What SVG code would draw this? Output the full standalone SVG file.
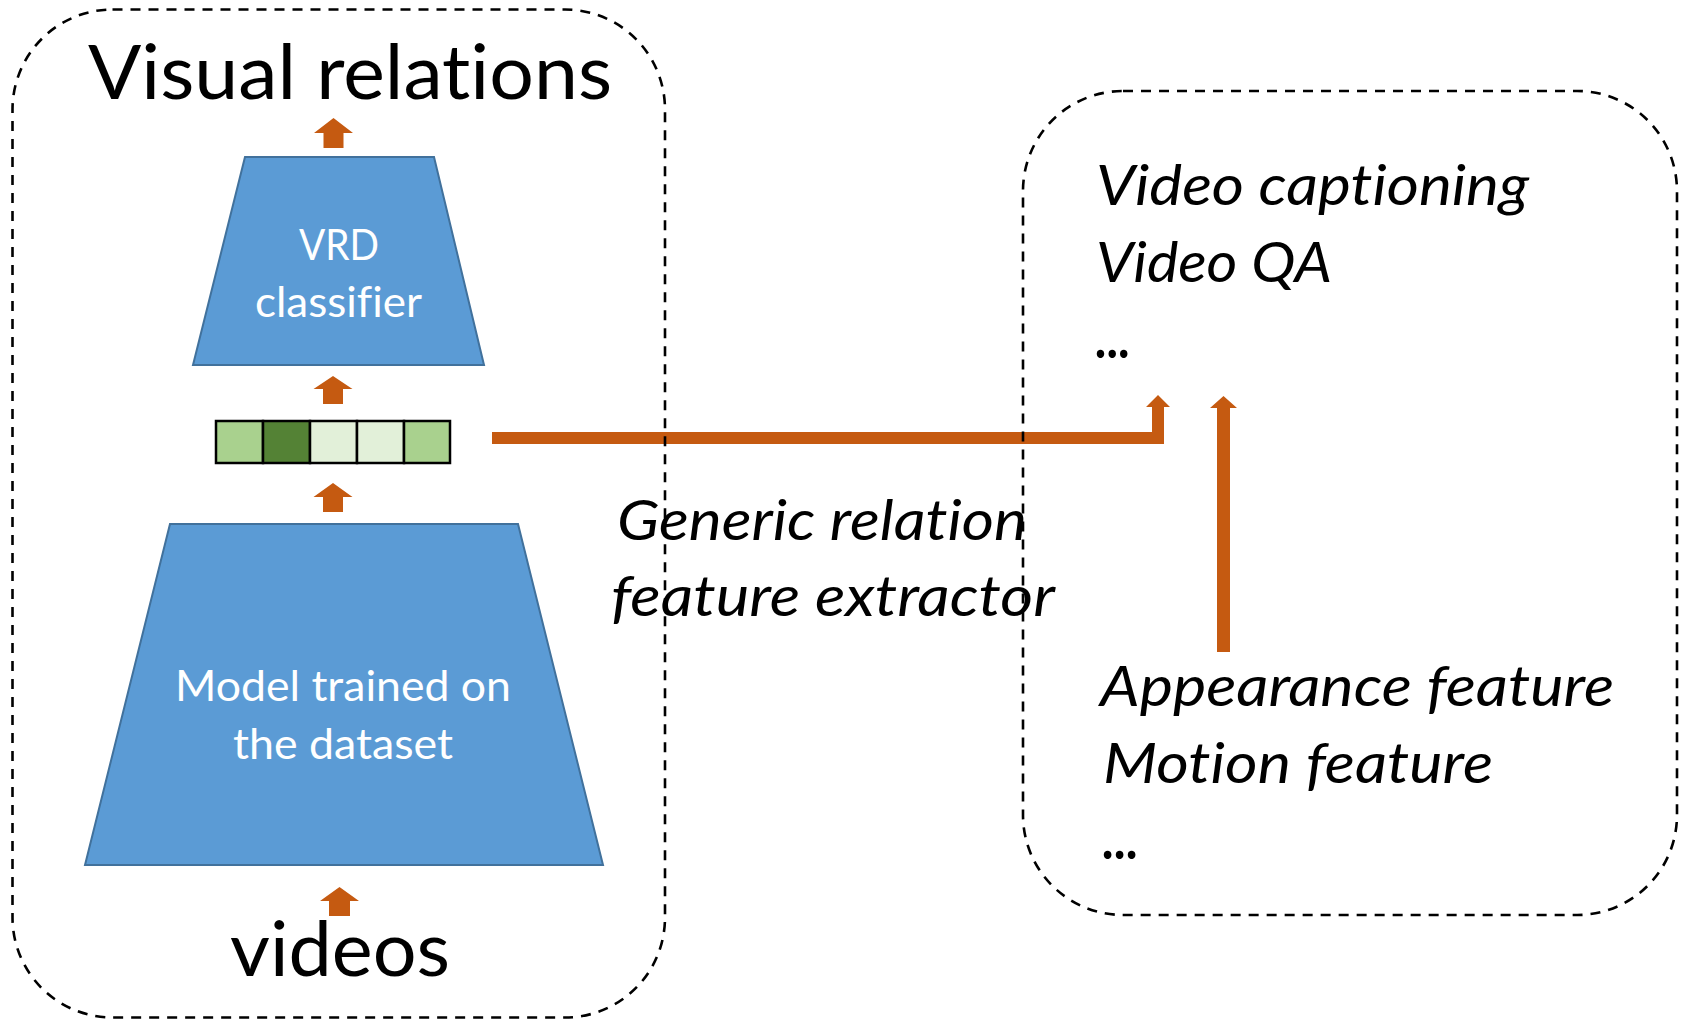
<svg xmlns="http://www.w3.org/2000/svg" width="1684" height="1020" viewBox="0 0 1684 1020">
<style>
.bg{fill:#ffffff}
.trap{fill:#5B9BD5;stroke:#41719C;stroke-width:2}
.box{fill:none;stroke:#000000;stroke-width:2.6;stroke-dasharray:10 8}
.arr{fill:#C55A11}
.cell{stroke:#000000;stroke-width:2.5}
text{font-variant-ligatures:none;font-feature-settings:"liga" 0,"dlig" 0}
.big{font-family:Lato,"Open Sans","Liberation Sans",sans-serif;font-size:75px;fill:#000000}
.inner{font-family:Lato,"Open Sans","Liberation Sans",sans-serif;font-size:42px;fill:#ffffff}
.it{font-family:Lato,"Open Sans","Liberation Sans",sans-serif;font-size:56px;font-style:italic;fill:#000000}
</style>
<rect class="bg" x="0" y="0" width="1684" height="1020"/>

<g id="connectors">
<path class="arr" d="M333.5 118 L353 133 L343.5 133 L343.5 148 L323.5 148 L323.5 133 L314 133 Z"/>
<path class="arr" d="M333 376 L352.5 389 L343 389 L343 404 L323 404 L323 389 L313.5 389 Z"/>
<path class="arr" d="M333 483 L352.5 497 L343 497 L343 512 L323 512 L323 497 L313.5 497 Z"/>
<path class="arr" d="M339.5 887 L359 901 L350 901 L350 916 L329 916 L329 901 L320 901 Z"/>
<path class="arr" d="M492 432 L1152 432 L1152 407 L1146 407 L1158 395 L1170 407 L1164 407 L1164 444 L492 444 Z"/>
<path class="arr" d="M1223.5 396 L1237 408 L1230 408 L1230 652 L1217 652 L1217 408 L1210 408 Z"/>
</g>

<g id="title">
<text class="big" x="88" y="99" textLength="524" lengthAdjust="spacingAndGlyphs">Visual relations</text>
</g>

<g id="vrd-classifier">
<polygon class="trap" points="245,157 434,157 484,365 193,365"/>
<text class="inner" x="299" y="260" textLength="80" lengthAdjust="spacingAndGlyphs">VRD</text>
<text class="inner" x="255" y="317" textLength="167" lengthAdjust="spacingAndGlyphs">classifier</text>
</g>

<g id="feature-vector">
<rect class="cell" x="216" y="421" width="47" height="42" fill="#A9D18E"/>
<rect class="cell" x="263" y="421" width="47" height="42" fill="#548235"/>
<rect class="cell" x="310" y="421" width="47" height="42" fill="#E2F0D9"/>
<rect class="cell" x="357" y="421" width="47" height="42" fill="#E2F0D9"/>
<rect class="cell" x="404" y="421" width="46" height="42" fill="#A9D18E"/>
</g>

<g id="model">
<polygon class="trap" points="170,524 518,524 603,865 85,865"/>
<text class="inner" x="175" y="701" textLength="336" lengthAdjust="spacingAndGlyphs">Model trained on</text>
<text class="inner" x="233" y="759" textLength="220" lengthAdjust="spacingAndGlyphs">the dataset</text>
</g>

<g id="videos">
<text class="big" x="230" y="976" textLength="220" lengthAdjust="spacingAndGlyphs">videos</text>
</g>

<g id="generic-label">
<text class="it" x="617" y="540" textLength="410" lengthAdjust="spacingAndGlyphs">Generic relation</text>
<text class="it" x="611" y="616" textLength="444" lengthAdjust="spacingAndGlyphs">feature extractor</text>
</g>

<g id="tasks">
<text class="it" x="1096" y="205" textLength="433" lengthAdjust="spacingAndGlyphs">Video captioning</text>
<text class="it" x="1096" y="282" textLength="236" lengthAdjust="spacingAndGlyphs">Video QA</text>
<text class="it" x="1096" y="358" textLength="35" lengthAdjust="spacingAndGlyphs" font-weight="bold">...</text>
</g>

<g id="features">
<text class="it" x="1100" y="706" textLength="514" lengthAdjust="spacingAndGlyphs">Appearance feature</text>
<text class="it" x="1103" y="783" textLength="390" lengthAdjust="spacingAndGlyphs">Motion feature</text>
<text class="it" x="1103" y="859" textLength="36" lengthAdjust="spacingAndGlyphs" font-weight="bold">...</text>
</g>

<g id="left-panel">
<rect class="box" x="12.5" y="9.5" width="652.5" height="1008" rx="100" ry="100"/>
</g>
<g id="right-panel">
<rect class="box" x="1023" y="91" width="654" height="824" rx="100" ry="100"/>
</g>
</svg>
